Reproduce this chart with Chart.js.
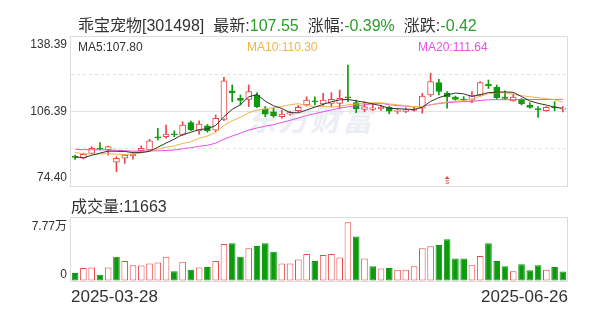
<!DOCTYPE html>
<html>
<head>
<meta charset="utf-8">
<script src="https://cdn.jsdelivr.net/npm/chart.js@4.4.0/dist/chart.umd.min.js"></script>
<style>
body { margin: 0; background: #fff; }
#wrap { position: relative; width: 600px; height: 313px; overflow: hidden; font-family: "Liberation Sans", "Noto Sans CJK SC", sans-serif; }
#wrap canvas { position: absolute; left: 0; top: 0; }
.txt { position: absolute; white-space: nowrap; color: #333; }
#title { left: 78px; top: 12px; font-size: 16px; }
#title .v { color: #2a9d2a; }
#title .k { margin-left: 9px; }
#volLabel { left: 71px; top: 193px; font-size: 16px; }
.date { top: 287px; font-size: 17px; }
#d0 { left: 71px; }
#d1 { right: 32px; }
#mark { left: 246px; top: 96px; font-size: 30px; font-weight: bold; font-style: italic; color: rgba(185, 198, 215, 0.3); letter-spacing: 2px; }
</style>
</head>
<body>
<div id="wrap">
  <div id="mark" class="txt">东方财富</div>
  <canvas id="priceChart" width="600" height="313"></canvas>
  <canvas id="volChart" width="600" height="313"></canvas>
  <div id="title" class="txt"></div>
  <div id="volLabel" class="txt"></div>
  <div id="d0" class="txt date"></div>
  <div id="d1" class="txt date"></div>
</div>
<script>
// 乖宝宠物 301498 daily candles, 2025-03-28 .. 2025-06-26
var stockName = "乖宝宠物";
var stockCode = "301498";

var dates = [
    "2025-03-28", "2025-03-31", "2025-04-01", "2025-04-02", "2025-04-03", "2025-04-07", "2025-04-08", "2025-04-09", "2025-04-10", "2025-04-11",
    "2025-04-14", "2025-04-15", "2025-04-16", "2025-04-17", "2025-04-18", "2025-04-21", "2025-04-22", "2025-04-23", "2025-04-24", "2025-04-25",
    "2025-04-28", "2025-04-29", "2025-04-30", "2025-05-06", "2025-05-07", "2025-05-08", "2025-05-09", "2025-05-12", "2025-05-13", "2025-05-14",
    "2025-05-15", "2025-05-16", "2025-05-19", "2025-05-20", "2025-05-21", "2025-05-22", "2025-05-23", "2025-05-26", "2025-05-27", "2025-05-28",
    "2025-05-29", "2025-05-30", "2025-06-03", "2025-06-04", "2025-06-05", "2025-06-06", "2025-06-09", "2025-06-10", "2025-06-11", "2025-06-12",
    "2025-06-13", "2025-06-16", "2025-06-17", "2025-06-18", "2025-06-19", "2025-06-20", "2025-06-23", "2025-06-24", "2025-06-25", "2025-06-26"
];

var opens = [
    87.0, 86.3, 88.4, 90.7, 89.85, 84.6, 86.3, 87.4, 89.6, 89.9,
    95.5, 95.6, 96.7, 96.3, 101.6, 98.1, 100.2, 98.4, 103.0, 115.3,
    112.1, 111.6, 113.5, 107.3, 106.3, 104.2, 105.3, 106.7, 109.2, 110.9,
    109.6, 109.9, 109.9, 112.7, 110.2, 107.3, 107.3, 107.5, 108.2, 106.4,
    106.4, 106.9, 107.8, 113.5, 118.8, 114.2, 112.6, 111.6, 111.3, 113.5,
    118.2, 116.8, 112.6, 110.9, 111.6, 109.0, 107.5, 106.8, 108.4, 107.4
];
var closes = [
    86.7, 88.0, 90.6, 90.3, 91.3, 86.3, 87.7, 88.0, 90.6, 93.85,
    95.1, 96.7, 96.4, 100.6, 98.6, 101.0, 98.1, 103.5, 119.6, 114.4,
    111.1, 114.9, 108.5, 105.3, 104.5, 105.3, 105.9, 108.2, 111.3, 110.6,
    111.3, 111.6, 112.1, 112.3, 107.5, 108.4, 108.0, 108.3, 106.5, 106.9,
    107.2, 107.4, 113.0, 119.2, 115.0, 112.8, 111.6, 111.3, 113.5, 118.8,
    117.4, 112.3, 112.0, 112.6, 109.7, 108.1, 107.2, 108.2, 107.97, 107.55
];
var highs = [
    87.7, 88.5, 91.3, 93.0, 91.6, 87.0, 88.0, 88.3, 91.6, 94.45,
    99.2, 100.6, 98.1, 102.0, 102.3, 102.4, 100.8, 104.9, 121.1, 117.8,
    113.5, 117.8, 114.5, 108.5, 107.8, 107.0, 106.5, 109.0, 112.7, 112.7,
    114.2, 114.5, 115.6, 126.3, 111.3, 110.6, 109.8, 109.2, 108.7, 107.8,
    108.0, 108.2, 114.2, 122.8, 120.2, 114.9, 113.0, 112.8, 114.9, 119.2,
    119.9, 117.8, 115.3, 114.0, 112.0, 110.2, 108.5, 108.5, 110.6, 108.5
];
var lows = [
    85.8, 86.0, 88.2, 89.85, 87.7, 80.5, 84.1, 85.9, 89.1, 89.6,
    94.15, 94.9, 95.6, 96.0, 98.2, 96.7, 97.5, 97.7, 102.5, 110.6,
    109.2, 108.5, 108.0, 104.2, 103.9, 103.5, 104.8, 106.2, 108.7, 109.2,
    109.0, 108.5, 107.8, 110.6, 105.9, 106.3, 106.8, 106.9, 105.4, 105.5,
    105.9, 106.5, 105.6, 112.8, 113.5, 107.8, 111.2, 110.9, 110.2, 113.0,
    116.3, 111.6, 111.5, 110.8, 109.2, 107.8, 103.9, 106.5, 106.7, 106.2
];
// closes of the 19 sessions before the window, only used for the moving averages
var preCloses = [92.0, 91.5, 90.8, 91.0, 90.5, 91.2, 91.8, 90.9, 91.0, 95.3, 93.5, 92.0, 90.0, 89.5, 88.8, 89.5, 85.5, 85.5, 87.0];

var volumes = [
    9800, 16000, 16500, 7800, 16500, 29800, 24800, 19400, 19000, 21500,
    22800, 29800, 11900, 23600, 14000, 16500, 17300, 24800, 45700, 46600,
    29800, 40300, 43200, 46600, 36100, 21500, 21500, 26600, 33200, 24800,
    32000, 33200, 29000, 72400, 54900, 27800, 18200, 15300, 16000, 14000,
    14000, 18200, 40300, 42800, 44500, 51600, 27800, 27800, 19400, 30700,
    46600, 24800, 18200, 11900, 20700, 13200, 19400, 14000, 17300, 11663
];

var priceTicks = [74.40, 106.39, 138.39];
var volTicks = [0, 77700];
var maPeriods = [5, 10, 20];
var markDates = ["2025-06-06"];

var RED = "#e8474b";
var GREEN = "#0e9a0e";
var maColors = ["#333333", "#f0b44a", "#e650e6"];

Chart.defaults.font.family = "'Liberation Sans', 'Noto Sans CJK SC', sans-serif";
Chart.defaults.color = "#333";

var allCloses = preCloses.concat(closes);
function movingAvg(n) {
    var out = [];
    for (var i = 0; i < closes.length; i++) {
        var end = i + preCloses.length;
        var sum = 0;
        for (var k = end - n + 1; k <= end; k++) sum += allCloses[k];
        out.push(sum / n);
    }
    return out;
}
var maLines = maPeriods.map(movingAvg);

var candleUp = closes.map(function(c, i) { return c >= opens[i]; });
var volUp = closes.map(function(c, i) { return c >= allCloses[i + preCloses.length - 1]; });

// header texts
var last = closes[closes.length - 1];
var prev = closes[closes.length - 2];
var chg = last - prev;
document.getElementById("title").innerHTML =
    stockName + "[" + stockCode + "]" +
    '<span class="k">最新:</span><span class="v">' + last.toFixed(2) + '</span>' +
    '<span class="k">涨幅:</span><span class="v">' + (chg / prev * 100).toFixed(2) + '%</span>' +
    '<span class="k">涨跌:</span><span class="v">' + chg.toFixed(2) + '</span>';
document.getElementById("volLabel").textContent = "成交量:" + volumes[volumes.length - 1];
document.getElementById("d0").textContent = dates[0];
document.getElementById("d1").textContent = dates[dates.length - 1];

var boxPlugin = {
    id: "box",
    beforeDatasetsDraw: function(chart) {
        var a = chart.chartArea, ctx = chart.ctx;
        ctx.save();
        ctx.strokeStyle = "#dcdcdc";
        ctx.lineWidth = 1;
        ctx.strokeRect(Math.round(a.left) - 0.5, Math.round(a.top) - 0.5,
            Math.round(a.right - a.left) + 1, Math.round(a.bottom - a.top) + 1);
        ctx.restore();
    }
};

var maLegendPlugin = {
    id: "maLegend",
    afterDraw: function(chart) {
        var a = chart.chartArea, ctx = chart.ctx;
        var offs = [7, 176, 347];
        ctx.save();
        ctx.font = "12px 'Liberation Sans', 'Noto Sans CJK SC', sans-serif";
        ctx.textBaseline = "middle";
        maPeriods.forEach(function(p, k) {
            var line = maLines[k];
            ctx.fillStyle = maColors[k];
            ctx.fillText("MA" + p + ":" + line[line.length - 1].toFixed(2), a.left + offs[k], a.top + 11);
        });
        // event marker under the candles
        ctx.fillStyle = RED;
        markDates.forEach(function(d) {
            var x = chart.scales.x.getPixelForValue(dates.indexOf(d));
            var y = a.bottom - 10;
            ctx.beginPath();
            ctx.moveTo(x, y);
            ctx.lineTo(x - 2.5, y + 3);
            ctx.lineTo(x + 2.5, y + 3);
            ctx.closePath();
            ctx.fill();
            ctx.font = "8px 'Liberation Sans', sans-serif";
            ctx.textAlign = "center";
            ctx.fillText("s", x, y + 6);
        });
        ctx.restore();
    }
};

function halfTicks(vals) {
    return [vals[0], (vals[0] + vals[1]) / 2, vals[1], (vals[1] + vals[2]) / 2, vals[2]];
}

var priceDatasets = [
    {
        type: "bar",
        data: lows.map(function(l, i) { return [l, highs[i]]; }),
        backgroundColor: candleUp.map(function(u) { return u ? RED : GREEN; }),
        barThickness: 1,
        grouped: false,
        order: 3
    },
    {
        type: "bar",
        data: opens.map(function(o, i) { return [o, closes[i]]; }),
        backgroundColor: candleUp.map(function(u) { return u ? "#ffffff" : GREEN; }),
        borderColor: candleUp.map(function(u) { return u ? RED : GREEN; }),
        borderWidth: 1,
        borderSkipped: false,
        barThickness: 6,
        minBarLength: 1,
        grouped: false,
        order: 2
    }
];
maLines.forEach(function(line, k) {
    priceDatasets.push({
        type: "line",
        data: line,
        borderColor: maColors[k],
        borderWidth: 1,
        pointRadius: 0,
        tension: 0,
        order: 1
    });
});

new Chart(document.getElementById("priceChart"), {
    type: "bar",
    data: { labels: dates, datasets: priceDatasets },
    options: {
        responsive: false,
        animation: false,
        devicePixelRatio: 1,
        layout: { padding: { left: 0, right: 33, top: 37, bottom: 127 } },
        plugins: { legend: { display: false }, tooltip: { enabled: false } },
        scales: {
            x: { display: false, offset: true, grid: { display: false } },
            y: {
                min: priceTicks[0],
                max: priceTicks[2],
                afterBuildTicks: function(scale) {
                    scale.ticks = halfTicks(priceTicks).map(function(v) { return { value: v }; });
                },
                afterFit: function(scale) { scale.width = 71; },
                border: {
                    display: false,
                    dash: function(ctx) { return (ctx.index === 1 || ctx.index === 3) ? [3, 3] : []; }
                },
                grid: {
                    drawTicks: false,
                    color: function(ctx) {
                        return (ctx.index >= 1 && ctx.index <= 3) ? "#e2e2e2" : "rgba(0,0,0,0)";
                    }
                },
                ticks: {
                    padding: 4,
                    color: "#333",
                    font: { size: 12, lineHeight: 1.35 },
                    callback: function(v, i) {
                        if (i === 0) return [v.toFixed(2), ""];
                        if (i === 4) return ["", v.toFixed(2)];
                        if (i === 2) return v.toFixed(2);
                        return "";
                    }
                }
            }
        }
    },
    plugins: [boxPlugin, maLegendPlugin]
});

new Chart(document.getElementById("volChart"), {
    type: "bar",
    data: {
        labels: dates,
        datasets: [{
            data: volumes,
            backgroundColor: volUp.map(function(u) { return u ? "#ffffff" : GREEN; }),
            borderColor: volUp.map(function(u) { return u ? RED : GREEN; }),
            borderWidth: 1,
            borderSkipped: false,
            barPercentage: 0.8,
            categoryPercentage: 1
        }]
    },
    options: {
        responsive: false,
        animation: false,
        devicePixelRatio: 1,
        layout: { padding: { left: 0, right: 33, top: 218, bottom: 32 } },
        plugins: { legend: { display: false }, tooltip: { enabled: false } },
        scales: {
            x: { display: false, offset: true, grid: { display: false } },
            y: {
                min: volTicks[0],
                max: volTicks[1],
                afterBuildTicks: function(scale) {
                    scale.ticks = [volTicks[0], (volTicks[0] + volTicks[1]) / 2, volTicks[1]].map(function(v) { return { value: v }; });
                },
                afterFit: function(scale) { scale.width = 71; },
                border: {
                    display: false,
                    dash: function(ctx) { return ctx.index === 1 ? [3, 3] : []; }
                },
                grid: {
                    drawTicks: false,
                    color: function(ctx) { return ctx.index === 1 ? "#e2e2e2" : "rgba(0,0,0,0)"; }
                },
                ticks: {
                    padding: 4,
                    color: "#333",
                    font: function(ctx) { return { size: 12, lineHeight: ctx.index === 0 ? 1.0 : 1.4 }; },
                    callback: function(v, i) {
                        if (i === 0) return [String(v), ""];
                        if (i === 2) return ["", (v / 10000).toFixed(2) + "万"];
                        return "";
                    }
                }
            }
        }
    },
    plugins: [boxPlugin]
});
</script>
</body>
</html>
